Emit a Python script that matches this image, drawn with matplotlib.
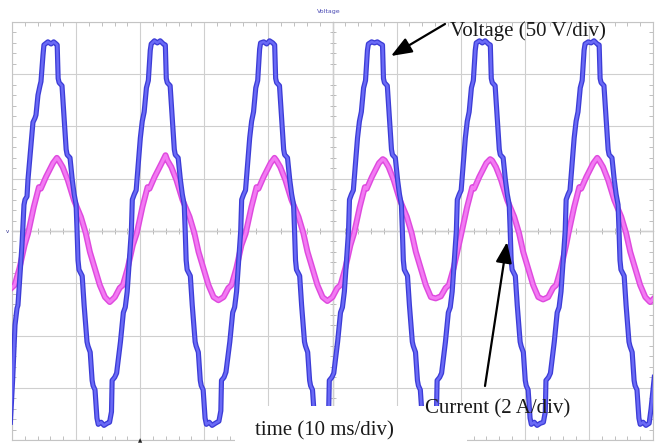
import matplotlib
matplotlib.use("Agg")
import matplotlib.pyplot as plt
from matplotlib.ticker import MultipleLocator, NullLocator
from matplotlib.patches import Rectangle

# ---------------- data ----------------
# time in ms, voltage in V (50 V/div), current in A (2 A/div)
voltage_t = [
    -0.25, 0.11, 0.47, 0.78, 0.93, 1.25, 1.56, 1.71, 1.87, 2.03, 2.34, 2.49, 2.96, 3.27,
    3.58, 3.74, 4.05, 4.36, 4.52, 4.83, 4.98,
    5.6, 6.1, 6.5, 6.9, 7.05, 7.2, 7.35, 7.8, 8.45, 8.6, 9.05, 9.4, 9.7, 10.0, 10.15, 10.3,
    10.45, 10.95, 11.25, 11.7, 11.85, 12.2, 12.5, 12.65, 12.95, 13.25, 13.45, 13.9, 14.35, 14.85,
    15.22, 15.52, 15.62, 16.02, 16.32, 16.92, 17.37, 17.67, 17.97, 18.32, 18.62, 18.77, 19.07,
    19.37, 20.02, 20.32, 20.62, 20.97, 21.27, 21.57, 21.72, 22.22, 22.67, 23.12, 23.62, 23.92,
    24.07, 24.22, 24.67, 25.32, 25.47, 25.92, 26.27, 26.57, 26.87, 27.02, 27.17, 27.32, 27.82,
    28.12, 28.57, 28.72, 29.07, 29.37, 29.52, 29.82, 30.12, 30.32, 30.77, 31.22, 31.72,
    32.28, 32.58, 32.68, 33.08, 33.38, 33.98, 34.43, 34.73, 35.03, 35.38, 35.68, 35.83, 36.13,
    36.43, 37.08, 37.38, 37.68, 38.03, 38.33, 38.63, 38.78, 39.28, 39.73, 40.18, 40.68, 40.98,
    41.13, 41.28, 41.73, 42.38, 42.53, 42.98, 43.33, 43.63, 43.93, 44.08, 44.23, 44.38, 44.88,
    45.18, 45.63, 45.78, 46.13, 46.43, 46.58, 46.88, 47.18, 47.38, 47.83, 48.28, 48.78,
    49.10, 49.40, 49.50, 49.90, 50.20, 50.80, 51.25, 51.55, 51.85, 52.20, 52.50, 52.65, 52.95,
    53.25, 53.90, 54.20, 54.50, 54.85, 55.15, 55.45, 55.60, 56.10, 56.55, 57.00, 57.50, 57.80,
    57.95, 58.10, 58.55, 59.20, 59.35, 59.80, 60.15, 60.45, 60.75, 60.90, 61.05, 61.20, 61.70,
    62.00, 62.45, 62.60, 62.95, 63.25, 63.40, 63.70, 64.00, 64.20, 64.65, 65.10, 65.60,
    65.92, 66.22, 66.32, 66.72, 67.02, 67.62, 68.07, 68.37, 68.67, 69.02, 69.32, 69.47, 69.77,
    70.07, 70.72, 71.02, 71.32, 71.67, 71.97, 72.27, 72.42, 72.92, 73.37, 73.82, 74.32, 74.62,
    74.77, 74.92, 75.37, 76.02, 76.17, 76.62, 76.97, 77.27, 77.57, 77.72, 77.87, 78.02, 78.52,
    78.82, 79.27, 79.42, 79.77, 80.07, 80.22, 80.52, 80.82, 81.02, 81.47, 81.92, 82.42,
    82.90, 83.20, 83.30, 83.70, 84.00, 84.60, 85.05, 85.35, 85.65, 86.00, 86.30, 86.45, 86.75,
    87.05, 87.70, 88.00, 88.30, 88.65, 88.95, 89.25, 89.40, 89.90, 90.35, 90.80, 91.30, 91.60,
    91.75, 91.90, 92.35, 93.00, 93.15, 93.60, 93.95, 94.25, 94.55, 94.70, 94.85, 95.00, 95.50,
    95.80, 96.25, 96.40, 96.75, 97.05, 97.20, 97.50, 97.80, 98.00, 98.45, 98.90, 99.40,
    99.70, 100.2,
]
voltage_v = [
    -183, -141, -90, -74, -71, -42, -13, 6, 25, 30, 33, 49, 82, 104,
    108, 111, 130, 139, 143, 168, 178,
    181, 179, 181, 179, 178, 146, 142, 139, 78, 73, 70, 49, 35, 25, 0, -28,
    -37, -43, -71, -106, -110, -116, -143, -148, -152, -179, -185, -183, -186, -184,
    -183, -173, -143, -140, -136, -106, -78, -73, -58, -26, 0, 30, 35,
    39, 89, 105, 114, 137, 144, 173, 179, 182, 180, 182, 179, 178,
    146, 142, 139, 78, 73, 70, 49, 35, 25, 0, -28, -37, -43,
    -71, -106, -110, -116, -143, -148, -152, -179, -185, -183, -186, -184,
    -182, -172, -143, -140, -135, -106, -78, -73, -58, -26, 0, 30, 35,
    39, 89, 105, 114, 137, 144, 174, 180, 181, 179, 182, 180, 178,
    146, 142, 139, 78, 73, 70, 49, 35, 25, 0, -28, -37, -43,
    -71, -106, -110, -116, -143, -148, -152, -179, -184, -183, -185, -183,
    -183, -173, -143, -140, -136, -106, -78, -73, -58, -26, 0, 30, 35,
    39, 89, 105, 114, 137, 144, 173, 179, 181, 180, 181, 179, 178,
    146, 142, 139, 78, 73, 70, 49, 35, 25, 0, -28, -37, -43,
    -71, -106, -110, -116, -143, -148, -152, -179, -185, -183, -186, -184,
    -183, -173, -143, -140, -136, -106, -78, -73, -58, -26, 0, 30, 35,
    39, 89, 105, 114, 137, 144, 173, 180, 182, 180, 182, 179, 178,
    146, 142, 139, 78, 73, 70, 49, 35, 25, 0, -28, -37, -43,
    -71, -106, -110, -116, -143, -148, -152, -179, -185, -183, -186, -184,
    -183, -173, -143, -140, -136, -106, -78, -73, -58, -26, 0, 30, 35,
    39, 89, 105, 114, 137, 144, 173, 179, 181, 180, 182, 179, 178,
    146, 142, 139, 78, 73, 70, 49, 35, 25, 0, -28, -37, -43,
    -71, -106, -110, -116, -143, -148, -152, -179, -185, -183, -186, -184,
    -170, -140,
]

current_t = [
    -0.6, -0.08, 0.42, 1.17, 1.97,
    2.5, 3.4, 4.2, 4.5, 5.3, 6.4, 7.0, 7.3, 7.9, 8.7, 9.65, 10.75, 11.5, 12.15, 12.9, 13.7,
    14.5, 15.25, 16.05, 16.8, 17.3, 18.05, 18.85,
    19.45, 20.35, 21.15, 21.45, 22.25, 23.35, 23.95, 24.25, 24.85, 25.65, 26.6, 27.7, 28.45,
    29.1, 29.85, 30.65, 31.45, 32.2, 33.0, 33.75, 34.25, 35.0, 35.8,
    36.45, 37.35, 38.15, 38.45, 39.25, 40.35, 40.95, 41.25, 41.85, 42.65, 43.6, 44.7, 45.45,
    46.1, 46.85, 47.65, 48.45, 49.2, 50.0, 50.75, 51.25, 52.0, 52.8,
    53.35, 54.25, 55.05, 55.35, 56.15, 57.25, 57.85, 58.15, 58.75, 59.55, 60.5, 61.6, 62.35,
    63.0, 63.75, 64.55, 65.35, 66.1, 66.9, 67.65, 68.15, 68.9, 69.7,
    70.1, 71.0, 71.8, 72.1, 72.9, 74.0, 74.6, 74.9, 75.5, 76.3, 77.25, 78.35, 79.1,
    79.75, 80.5, 81.3, 82.1, 82.85, 83.65, 84.4, 84.9, 85.65, 86.45,
    86.8, 87.7, 88.5, 88.8, 89.6, 90.7, 91.3, 91.6, 92.2, 93.0, 93.95, 95.05, 95.8,
    96.45, 97.2, 98.0, 98.8, 99.55, 100.35,
]
current_a = [
    -2.30, -2.18, -2.07, -1.42, -0.54,
    -0.10, 0.92, 1.68, 1.62, 2.07, 2.60, 2.80, 2.70, 2.45, 1.95, 1.19, 0.54, -0.08, -0.80, -1.42, -2.07,
    -2.53, -2.72, -2.53, -2.18, -2.07, -1.42, -0.54,
    -0.10, 0.92, 1.68, 1.62, 2.07, 2.60, 2.90, 2.70, 2.45, 1.95, 1.19, 0.54, -0.08,
    -0.80, -1.42, -2.07, -2.53, -2.65, -2.53, -2.18, -2.07, -1.42, -0.54,
    -0.10, 0.92, 1.68, 1.62, 2.07, 2.60, 2.80, 2.70, 2.45, 1.95, 1.19, 0.54, -0.08,
    -0.80, -1.42, -2.07, -2.53, -2.68, -2.53, -2.18, -2.07, -1.42, -0.54,
    -0.10, 0.92, 1.68, 1.62, 2.07, 2.60, 2.75, 2.70, 2.45, 1.95, 1.19, 0.54, -0.08,
    -0.80, -1.42, -2.07, -2.53, -2.58, -2.50, -2.18, -2.07, -1.42, -0.54,
    -0.10, 0.92, 1.68, 1.62, 2.07, 2.60, 2.75, 2.70, 2.45, 1.95, 1.19, 0.54, -0.08,
    -0.80, -1.42, -2.07, -2.53, -2.62, -2.53, -2.18, -2.07, -1.42, -0.54,
    -0.10, 0.92, 1.68, 1.62, 2.07, 2.60, 2.80, 2.70, 2.45, 1.95, 1.19, 0.54, -0.08,
    -0.80, -1.42, -2.07, -2.53, -2.72, -2.53,
]

time_range = (0, 100)        # 10 divisions x 10 ms
volt_range = (-200, 200)     # 8 divisions x 50 V
curr_range = (-8, 8)         # 8 divisions x 2 A

# ---------------- figure ----------------
W, H = 655, 444
fig = plt.figure(figsize=(W / 100, H / 100), dpi=100)
ax = fig.add_axes([12 / W, 4 / H, 641 / W, 418 / H])   # current (bottom layer, grid)
ax2 = ax.twinx()                                      # voltage (on top)

grid_c = "#cfcfcf"
tick_c = "#b5b5b5"

ax.set_xlim(*time_range)
ax.set_ylim(*curr_range)
ax2.set_ylim(*volt_range)

ax.xaxis.set_major_locator(MultipleLocator(10))
ax.xaxis.set_minor_locator(MultipleLocator(2))
ax.yaxis.set_major_locator(MultipleLocator(2))
ax.yaxis.set_minor_locator(MultipleLocator(0.4))
ax.grid(True, which="major", color=grid_c, lw=0.8)
ax.set_axisbelow(True)
ax.tick_params(which="major", length=0, labelbottom=False, labelleft=False)
ax.tick_params(which="minor", direction="in", length=3, width=0.6, color=tick_c,
               top=True, bottom=True, left=True, right=True)
for s in ax.spines.values():
    s.set_color("#c4c4c4")
    s.set_linewidth(0.8)
ax2.set_yticks([])
ax2.yaxis.set_minor_locator(NullLocator())
for s in ax2.spines.values():
    s.set_visible(False)

# centre axes with ticks (oscilloscope graticule)
secx = ax.secondary_xaxis(0.5)
secx.xaxis.set_major_locator(NullLocator())
secx.xaxis.set_minor_locator(MultipleLocator(2))
secx.tick_params(which="minor", direction="inout", length=5, width=0.6, color=tick_c)
secx.spines["bottom"].set_color(grid_c)
secx.spines["bottom"].set_linewidth(0.8)
secy = ax.secondary_yaxis(0.5)
secy.yaxis.set_major_locator(NullLocator())
secy.yaxis.set_minor_locator(MultipleLocator(0.4))
secy.tick_params(which="minor", direction="inout", length=5, width=0.6, color=tick_c)
secy.spines["left"].set_color(grid_c)
secy.spines["left"].set_linewidth(0.8)

# traces
ax.plot(current_t, current_a, color="#de4ade", lw=4.3, solid_joinstyle="round", zorder=3)
ax.plot(current_t, current_a, color="#f37af3", lw=2.2, solid_joinstyle="round", zorder=3)
ax2.plot(voltage_t, voltage_v, color="#3c3cd6", lw=3.7, solid_joinstyle="round", zorder=3)
ax2.plot(voltage_t, voltage_v, color="#6a6af6", lw=1.8, solid_joinstyle="round", zorder=3)

# white box behind the time label
fig.add_artist(Rectangle((235 / W, 0), (467 - 235) / W, (444 - 406) / H,
                         transform=fig.transFigure, facecolor="white", edgecolor="none",
                         zorder=2))

serif = ["Liberation Serif", "DejaVu Serif"]
fig.text(450 / W, 1 - 31 / H, "Voltage (50 V/div)", family=serif, fontsize=15,
         ha="left", va="center", color="#1a1a1a", zorder=4)
fig.text(425 / W, 1 - 409 / H, "Current (2 A/div)", family=serif, fontsize=15,
         ha="left", va="center", color="#1a1a1a", zorder=4)
fig.text(255 / W, 1 - 431 / H, "time (10 ms/div)", family=serif, fontsize=15,
         ha="left", va="center", color="#1a1a1a", zorder=4)

arrow = dict(arrowstyle="-|>,head_length=0.9,head_width=0.35", mutation_scale=14,
             color="black", lw=1.6, shrinkA=0, shrinkB=0)
fig.add_artist(matplotlib.patches.FancyArrowPatch((445 / W, 1 - 24 / H), (391 / W, 1 - 56 / H),
                                                  transform=fig.transFigure, zorder=4, **arrow))
fig.add_artist(matplotlib.patches.FancyArrowPatch((485 / W, 1 - 386 / H), (507 / W, 1 - 242 / H),
                                                  transform=fig.transFigure, zorder=4, **arrow))

# small scope annotations
fig.text(329 / W, 1 - 12 / H, "Voltage", fontsize=4.5, color="#4a4ab4", ha="center", va="center")
fig.text(7 / W, 1 - 231 / H, "v", fontsize=4, color="#303090", ha="center", va="center")
fig.text(140 / W, 1 - 441 / H, "▲", fontsize=4, color="#222222", ha="center", va="center")

fig.savefig("out.png", dpi=100, facecolor="white")
